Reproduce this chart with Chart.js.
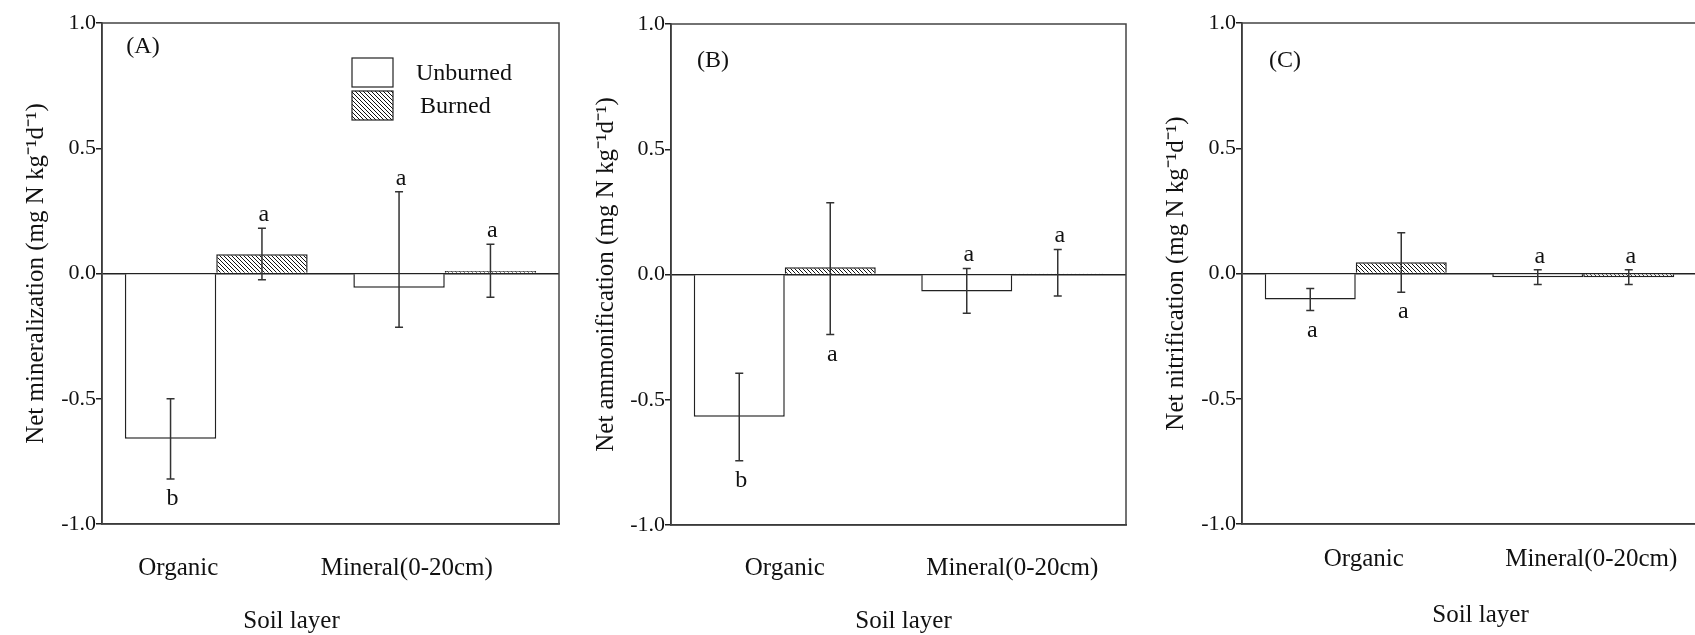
<!DOCTYPE html>
<html lang="en">
<head>
<meta charset="UTF-8">
<title>Net N mineralization, ammonification and nitrification</title>
<script src="https://cdn.jsdelivr.net/npm/chart.js@4.4.1/dist/chart.umd.min.js"></script>
<style>
  body { margin: 0; width: 1695px; height: 635px; overflow: hidden; background: #fff; position: relative; }
  canvas { position: absolute; top: 0; display: block; }
</style>
</head>
<body>
<canvas id="chartA" width="570" height="635" style="left:0px"></canvas>
<canvas id="chartB" width="570" height="635" style="left:570px"></canvas>
<canvas id="chartC" width="570" height="635" style="left:1140px"></canvas>
<script>
const categories = ['Organic', 'Mineral(0-20cm)'];
const seriesNames = ['Unburned', 'Burned'];
const yTicks = [-1.0, -0.5, 0.0, 0.5, 1.0];

// (A) net mineralization
const minerUnburned = [-0.66, -0.057];
const minerBurned = [0.077, 0.01];
const minerUnburnedUp = [0.16, 0.383];
const minerUnburnedDown = [0.16, 0.158];
const minerBurnedUp = [0.104, 0.107];
const minerBurnedDown = [0.102, 0.105];
const minerUnburnedLetters = ['b', 'a'];
const minerBurnedLetters = ['a', 'a'];
const minerUnburnedSide = ['below', 'above'];
const minerBurnedSide = ['above', 'above'];

// (B) net ammonification
const ammonUnburned = [-0.568, -0.068];
const ammonBurned = [0.029, 0.004];
const ammonUnburnedUp = [0.174, 0.092];
const ammonUnburnedDown = [0.176, 0.087];
const ammonBurnedUp = [0.257, 0.096];
const ammonBurnedDown = [0.269, 0.09];
const ammonUnburnedLetters = ['b', 'a'];
const ammonBurnedLetters = ['a', 'a'];
const ammonUnburnedSide = ['below', 'above'];
const ammonBurnedSide = ['below', 'above'];

// (C) net nitrification
const nitriUnburned = [-0.104, -0.015];
const nitriBurned = [0.045, -0.015];
const nitriUnburnedUp = [0.044, 0.03];
const nitriUnburnedDown = [0.044, 0.029];
const nitriBurnedUp = [0.118, 0.03];
const nitriBurnedDown = [0.12, 0.029];
const nitriUnburnedLetters = ['a', 'a'];
const nitriBurnedLetters = ['a', 'a'];
const nitriUnburnedSide = ['below', 'above'];
const nitriBurnedSide = ['below', 'above'];

const FONT = '"Liberation Serif", "Times New Roman", serif';
const INK = '#222';

// diagonal hatch for the burned bars
function makeHatch() {
  const c = document.createElement('canvas');
  c.width = 4; c.height = 4;
  const g = c.getContext('2d');
  g.fillStyle = '#fff';
  g.fillRect(0, 0, 4, 4);
  g.strokeStyle = '#111';
  g.lineWidth = 1;
  g.beginPath();
  g.moveTo(-1, -1); g.lineTo(5, 5);
  g.moveTo(-1, 3); g.lineTo(1, 5);
  g.moveTo(3, -1); g.lineTo(5, 1);
  g.stroke();
  return g.createPattern(c, 'repeat');
}
const hatch = makeHatch();

const panels = [
  { id: 'chartA', tag: '(A)', yTitle: 'Net mineralization (mg N kg⁻¹d⁻¹)',
    unb: minerUnburned, bur: minerBurned,
    unbUp: minerUnburnedUp, unbDown: minerUnburnedDown, burUp: minerBurnedUp, burDown: minerBurnedDown,
    unbLet: minerUnburnedLetters, burLet: minerBurnedLetters, unbSide: minerUnburnedSide, burSide: minerBurnedSide,
    left: 102, right: 559, top: 23, bottom: 524, tickPad: 21, labelShift: -38,
    titleShift: -39, titleY: 621, tagX: 143, tagY: 47, legend: true },
  { id: 'chartB', tag: '(B)', yTitle: 'Net ammonification (mg N kg⁻¹d⁻¹)',
    unb: ammonUnburned, bur: ammonBurned,
    unbUp: ammonUnburnedUp, unbDown: ammonUnburnedDown, burUp: ammonBurnedUp, burDown: ammonBurnedDown,
    unbLet: ammonUnburnedLetters, burLet: ammonBurnedLetters, unbSide: ammonUnburnedSide, burSide: ammonBurnedSide,
    left: 101, right: 556, top: 24, bottom: 525, tickPad: 20, labelShift: 0,
    titleShift: 5, titleY: 621, tagX: 143, tagY: 61, legend: false },
  { id: 'chartC', tag: '(C)', yTitle: 'Net nitrification (mg N kg⁻¹d⁻¹)',
    unb: nitriUnburned, bur: nitriBurned,
    unbUp: nitriUnburnedUp, unbDown: nitriUnburnedDown, burUp: nitriBurnedUp, burDown: nitriBurnedDown,
    unbLet: nitriUnburnedLetters, burLet: nitriBurnedLetters, unbSide: nitriUnburnedSide, burSide: nitriBurnedSide,
    left: 102, right: 557, top: 23, bottom: 524, tickPad: 12, labelShift: 8,
    titleShift: 11, titleY: 615, tagX: 145, tagY: 61, legend: false }
];

function makeExtras(p) {
  return {
    id: 'extras',
    afterDatasetsDraw(chart) {
      const ctx = chart.ctx, ys = chart.scales.y;
      ctx.save();
      chart.data.datasets.forEach((ds, di) => {
        chart.getDatasetMeta(di).data.forEach((bar, i) => {
          const v = ds.data[i];
          const yTop = ys.getPixelForValue(v + ds.errUp[i]);
          const yBot = ys.getPixelForValue(v - ds.errDown[i]);
          ctx.strokeStyle = '#333';
          ctx.lineWidth = 1.5;
          ctx.beginPath();
          ctx.moveTo(bar.x, yTop); ctx.lineTo(bar.x, yBot);
          ctx.moveTo(bar.x - 4, yTop); ctx.lineTo(bar.x + 4, yTop);
          ctx.moveTo(bar.x - 4, yBot); ctx.lineTo(bar.x + 4, yBot);
          ctx.stroke();
          ctx.fillStyle = '#111';
          ctx.font = '24px ' + FONT;
          ctx.textAlign = 'center';
          ctx.textBaseline = 'alphabetic';
          const below = ds.letterSide[i] === 'below';
          ctx.fillText(ds.letters[i], bar.x + 2, below ? yBot + 26 : yTop - 7);
        });
      });
      ctx.restore();
    },
    afterDraw(chart) {
      const ctx = chart.ctx, a = chart.chartArea;
      ctx.save();
      // box round the plot
      ctx.strokeStyle = '#444';
      ctx.lineWidth = 1.5;
      ctx.strokeRect(a.left, a.top, a.right - a.left, a.bottom - a.top);
      ctx.fillStyle = '#111';
      ctx.font = '24px ' + FONT;
      ctx.textBaseline = 'middle';
      ctx.textAlign = 'center';
      ctx.fillText(p.tag, p.tagX, p.tagY);
      ctx.font = '25px ' + FONT;
      ctx.fillText('Soil layer', (a.left + a.right) / 2 + p.titleShift, p.titleY);
      if (p.legend) {
        ctx.font = '24px ' + FONT;
        chart.data.datasets.forEach((ds, i) => {
          const y0 = 58 + i * 33;
          ctx.fillStyle = ds.backgroundColor;
          ctx.fillRect(352, y0, 41, 29);
          ctx.strokeStyle = INK;
          ctx.lineWidth = 1.2;
          ctx.strokeRect(352, y0, 41, 29);
          ctx.fillStyle = '#111';
          ctx.textAlign = 'left';
          ctx.fillText(ds.label, 416 + i * 4, y0 + 16);
        });
      }
      ctx.restore();
    }
  };
}

panels.forEach(p => {
  new Chart(p.id, {
    type: 'bar',
    data: {
      labels: categories,
      datasets: [
        { label: seriesNames[0], data: p.unb, backgroundColor: '#fff', borderColor: INK, borderWidth: 1.5,
          errUp: p.unbUp, errDown: p.unbDown, letters: p.unbLet, letterSide: p.unbSide },
        { label: seriesNames[1], data: p.bur, backgroundColor: hatch, borderColor: INK, borderWidth: 1.5,
          errUp: p.burUp, errDown: p.burDown, letters: p.burLet, letterSide: p.burSide }
      ]
    },
    options: {
      responsive: false,
      animation: false,
      layout: { padding: { top: p.top, right: 570 - p.right, left: 0, bottom: 0 } },
      datasets: { bar: { categoryPercentage: 0.8, barPercentage: 1.0 } },
      plugins: { legend: { display: false }, tooltip: { enabled: false } },
      scales: {
        x: {
          grid: { display: false },
          border: { display: true, color: INK, width: 1.5 },
          ticks: { font: { family: FONT, size: 25 }, color: '#111', padding: p.tickPad,
                   labelOffset: p.labelShift, maxRotation: 0, autoSkip: false },
          afterFit: s => { s.height = 635 - p.bottom; }
        },
        y: {
          min: -1, max: 1,
          afterBuildTicks: s => { s.ticks = yTicks.map(v => ({ value: v })); },
          grid: {
            color: c => (c.tick && c.tick.value === 0 ? INK : 'rgba(0,0,0,0)'),
            lineWidth: 1.5, tickColor: INK, tickLength: 6
          },
          border: { display: true, color: INK, width: 1.5 },
          ticks: { font: { family: FONT, size: 22 }, color: '#111', padding: 0,
                   callback: v => v.toFixed(1) },
          title: { display: true, text: p.yTitle, color: '#111',
                   font: { family: FONT, size: 25 }, padding: { top: 21, bottom: 0 } },
          afterFit: s => { s.width = p.left; }
        }
      }
    },
    plugins: [makeExtras(p)]
  });
});
</script>
</body>
</html>
